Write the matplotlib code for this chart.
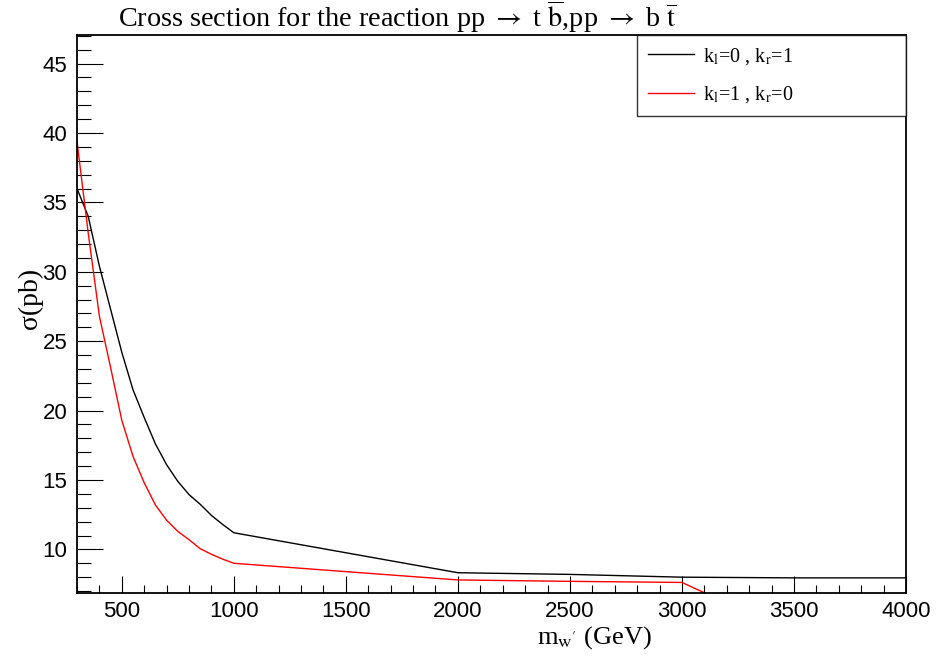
import matplotlib
matplotlib.use("Agg")
import matplotlib.pyplot as plt
import matplotlib.ticker as mticker

plt.rcParams['mathtext.fontset'] = 'stix'

# masses in GeV and cross sections in pb
mass_kl0 = [300, 350, 400, 450, 500, 550, 600, 650, 700, 750, 800, 850, 900, 950, 1000,
            2000, 2500, 3000, 3500, 4000]
xsec_kl0 = [36.0, 34.0, 30.4, 27.3, 24.2, 21.5, 19.5, 17.6, 16.1, 14.9, 13.95, 13.25,
            12.45, 11.8, 11.2, 8.32, 8.2, 8.0, 7.95, 7.95]

mass_kl1 = [300, 350, 400, 450, 500, 550, 600, 650, 700, 750, 800, 850, 900, 950, 1000,
            2000, 2500, 3000, 3500]
xsec_kl1 = [39.4, 32.8, 26.8, 23.1, 19.3, 16.7, 14.8, 13.2, 12.1, 11.3, 10.7, 10.05,
            9.65, 9.3, 9.0, 7.8, 7.7, 7.62, 3.9]

labels = [r"k$_{\mathrm{l}}$=0 , k$_{\mathrm{r}}$=1",
          r"k$_{\mathrm{l}}$=1 , k$_{\mathrm{r}}$=0"]
xticks = [500, 1000, 1500, 2000, 2500, 3000, 3500, 4000]

fig = plt.figure(figsize=(9.36, 6.63), dpi=100)
ax = fig.add_axes([77/936, 1 - 593/663, (906 - 77)/936, (593 - 35)/663])

ax.plot(mass_kl0, xsec_kl0, color='black', lw=1.0, label=labels[0])
ax.plot(mass_kl1, xsec_kl1, color='red', lw=1.0, label=labels[1])

ax.set_xlim(300, 4000)
ax.set_ylim(6.86, 47.06)

ax.xaxis.set_minor_locator(mticker.MultipleLocator(100))
ax.yaxis.set_major_locator(mticker.MultipleLocator(5))
ax.yaxis.set_minor_locator(mticker.MultipleLocator(1))
ax.set_xticks(xticks)
ax.set_xticklabels([str(v) for v in xticks], family='Liberation Sans', fontsize=16)
for lab in ax.get_yticklabels():
    lab.set_family('Liberation Sans')
    lab.set_fontsize(16)

ax.tick_params(axis='x', which='major', direction='in', length=12.2, width=0.8, pad=6)
ax.tick_params(axis='x', which='minor', direction='in', length=5.8, width=0.8)
ax.tick_params(axis='y', which='major', direction='in', length=18.7, width=0.8, pad=7)
ax.tick_params(axis='y', which='minor', direction='in', length=10, width=0.8)

for s in ax.spines.values():
    s.set_linewidth(1.3)

# ROOT-like legend box in the top-right corner
x0 = (637 - 77) / (906 - 77)
leg = ax.legend(loc='upper left', bbox_to_anchor=(x0, 1.0, 1.0 - x0, 0.0), mode='expand',
                frameon=True, fancybox=False, borderaxespad=0, handlelength=2.3,
                handletextpad=0.45, labelspacing=0.85, borderpad=0.55,
                prop={'family': 'Liberation Serif', 'size': 14.5})
leg.get_frame().set_edgecolor('black')
leg.get_frame().set_linewidth(1.0)

fig.text(397/936, 1 - 17/663,
         r"Cross section for the reaction pp $\rightarrow$ t $\overline{\mathrm{b}}$,pp $\rightarrow$ b $\overline{\mathrm{t}}$",
         ha='center', va='center', family='Liberation Serif', fontsize=20.3)
fig.text(30/936, 1 - 298/663, "σ(pb)", rotation=90, ha='center', va='center',
         family='Liberation Serif', fontsize=20)
fig.text(595/936, 1 - 638/663, r"m$_{\mathrm{w'}}$ (GeV)", ha='center', va='center',
         family='Liberation Serif', fontsize=19)

fig.savefig('out.png', dpi=100)
